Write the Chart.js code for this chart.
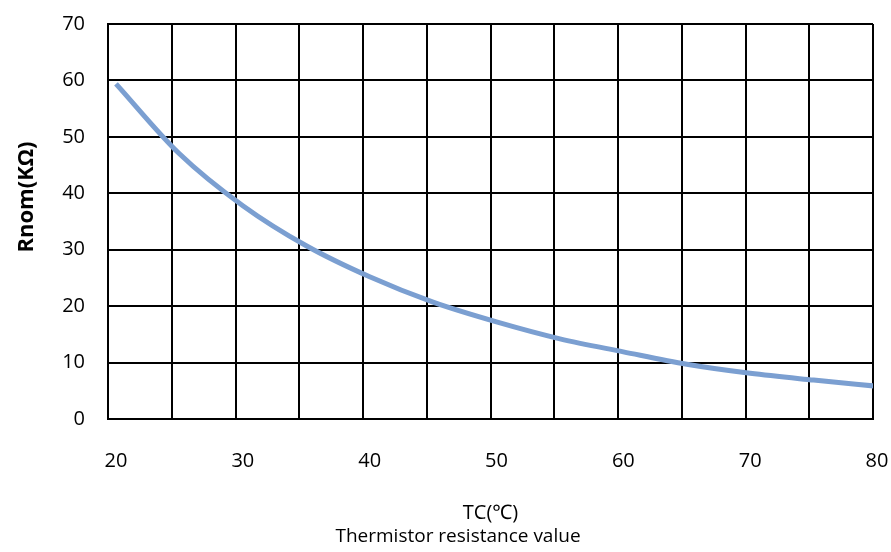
<!DOCTYPE html>
<html>
<head>
<meta charset="utf-8">
<script src="https://cdn.jsdelivr.net/npm/chart.js@4/dist/chart.umd.min.js"></script>
<style>
  html, body { margin: 0; padding: 0; background: #fff; }
  #wrap { width: 891px; height: 552px; }
</style>
</head>
<body>
<div id="wrap"><canvas id="chart" width="891" height="552"></canvas></div>
<script>
// temperature (°C) and resistance (kΩ)
const temps = [20, 25, 30, 35, 40, 45, 50, 55, 60, 65, 70, 75, 80];
const rnom = [59.4, 47.0, 37.8, 30.7, 25.2, 20.7, 17.2, 14.2, 11.9, 9.7, 8.1, 6.9, 5.8];
const xTickValues = [20, 30, 40, 50, 60, 70, 80];
const yTickValues = [0, 10, 20, 30, 40, 50, 60, 70];

const FONT = "'Open Sans', 'Noto Sans', sans-serif";
const lineColor = "#7B9FD1";

// texts that sit off-centre in the original
const sideTitles = {
  id: "sideTitles",
  afterDraw(chart) {
    const ctx = chart.ctx;
    ctx.save();
    ctx.fillStyle = "#000";
    ctx.textAlign = "center";
    ctx.textBaseline = "middle";
    ctx.font = "19px " + FONT;
    ctx.fillText("Thermistor resistance value", 458, 537);
    ctx.translate(27, 197);
    ctx.rotate(-Math.PI / 2);
    ctx.font = "bold 22px " + FONT;
    ctx.fillText("Rnom(KΩ)", 0, 0);
    ctx.restore();
  },
};

// keep the plot box where the original has it
function noPadding(axis) {
  axis.paddingTop = 0;
  axis.paddingBottom = 0;
  axis.paddingLeft = 0;
  axis.paddingRight = 0;
}

new Chart(document.getElementById("chart").getContext("2d"), {
  type: "line",
  data: {
    datasets: [{
      data: temps.map((t, i) => ({ x: t, y: rnom[i] })),
      borderColor: lineColor,
      borderWidth: 5,
      pointRadius: 0,
      fill: false,
      cubicInterpolationMode: "monotone",
      xAxisID: "x",
      yAxisID: "y",
    }],
  },
  options: {
    responsive: false,
    animation: false,
    layout: { padding: { top: 24, right: 18, left: 0, bottom: 0 } },
    plugins: {
      legend: { display: false },
      tooltip: { enabled: false },
    },
    scales: {
      x: {
        type: "linear",
        position: "bottom",
        min: 19.37,
        max: 79.68,
        grid: { display: false, drawTicks: false },
        border: { color: "#000", width: 2 },
        ticks: {
          color: "#000",
          font: { family: FONT, size: 20 },
          padding: 30,
          maxRotation: 0,
        },
        afterBuildTicks: (axis) => {
          axis.ticks = xTickValues.map((v) => ({ value: v }));
        },
        title: {
          display: true,
          text: "TC(℃)",
          color: "#000",
          font: { family: FONT, size: 20 },
          padding: { top: 0, bottom: 27 },
        },
        afterFit: (axis) => { axis.height = 133; noPadding(axis); },
      },
      xGrid: {
        type: "linear",
        position: "top",
        min: 0,
        max: 12,
        ticks: { display: false, stepSize: 1 },
        grid: { color: "#000", lineWidth: 2, drawTicks: false },
        border: { display: false },
        afterFit: (axis) => { axis.height = 0; noPadding(axis); },
      },
      y: {
        min: 0,
        max: 70,
        grid: { color: "#000", lineWidth: 2, drawTicks: false },
        border: { color: "#000", width: 2 },
        ticks: {
          color: "#000",
          font: { family: FONT, size: 20 },
          padding: 23,
        },
        afterBuildTicks: (axis) => {
          axis.ticks = yTickValues.map((v) => ({ value: v }));
        },
        afterFit: (axis) => { axis.width = 108; noPadding(axis); },
      },
    },
  },
  plugins: [sideTitles],
});
</script>
</body>
</html>
